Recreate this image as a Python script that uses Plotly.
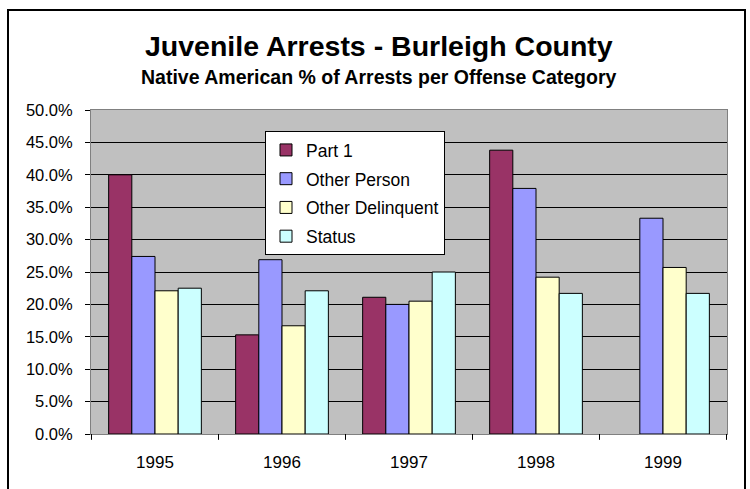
import plotly.graph_objects as go

years = ["1995", "1996", "1997", "1998", "1999"]
part1 = [0.400, 0.153, 0.211, 0.438, None]
other_person = [0.274, 0.269, 0.200, 0.379, 0.333]
other_delinquent = [0.221, 0.167, 0.205, 0.242, 0.257]
status = [0.225, 0.221, 0.250, 0.217, 0.217]

series = [
    ("Part 1", part1, "#993366"),
    ("Other Person", other_person, "#9999FF"),
    ("Other Delinquent", other_delinquent, "#FFFFCC"),
    ("Status", status, "#CCFFFF"),
]

fig = go.Figure()
for name, vals, col in series:
    fig.add_trace(go.Bar(
        x=years, y=vals, name=name, legendgroup=name,
        marker=dict(color=col, line=dict(color="black", width=1)),
    ))

font = "Liberation Sans"
H_plot = 489 - 110 - 55
W_plot = 750 - 91 - 23

fig.update_layout(
    width=750, height=489,
    margin=dict(l=91, r=23, t=110, b=55),
    paper_bgcolor="white", plot_bgcolor="#C0C0C0",
    barmode="group", bargap=0.27, bargroupgap=0,
    font=dict(family=font, size=15, color="black"),
    showlegend=True,
    legend=dict(
        x=(265 - 91) / W_plot, y=0.935, xanchor="left", yanchor="top",
        bgcolor="white", bordercolor="black", borderwidth=1,
        font=dict(family=font, size=17.5), tracegroupgap=3,
    ),
    xaxis=dict(
        showgrid=False, ticks="", showline=True, linecolor="#808080",
        mirror=True,
        tickfont=dict(family=font, size=17), ticklabelstandoff=13,
    ),
    yaxis=dict(
        range=[0, 0.5], dtick=0.05, tickformat=".1%",
        showgrid=True, gridcolor="black", gridwidth=1,
        ticks="outside", ticklen=5, tickcolor="black",
        showline=True, linecolor="#808080", mirror=True, zeroline=False,
        tickfont=dict(family=font, size=16.5), ticklabelstandoff=9,
    ),
    annotations=[
        dict(text="<b>Juvenile Arrests - Burleigh County</b>",
             x=(379 - 91) / W_plot, y=(434 - 46.5) / H_plot,
             xref="paper", yref="paper", yanchor="middle", showarrow=False,
             font=dict(family=font, size=28.5)),
        dict(text="<b>Native American % of Arrests per Offense Category</b>",
             x=(379 - 91) / W_plot, y=(434 - 77) / H_plot,
             xref="paper", yref="paper", yanchor="middle", showarrow=False,
             font=dict(family=font, size=19.5)),
    ],
)

# category boundary ticks on x axis
for i in range(6):
    fig.add_shape(type="line", xref="x", yref="paper",
                  x0=i - 0.5, x1=i - 0.5, y0=0, y1=-0.018,
                  line=dict(color="black", width=1))

# outer frame
fig.add_shape(type="rect", xref="paper", yref="paper",
              x0=(8 - 91) / W_plot, x1=(745 - 91) / W_plot,
              y0=(434 - 500) / H_plot, y1=(434 - 10) / H_plot,
              line=dict(color="black", width=2), fillcolor="rgba(0,0,0,0)")

fig.write_html("out.html")
